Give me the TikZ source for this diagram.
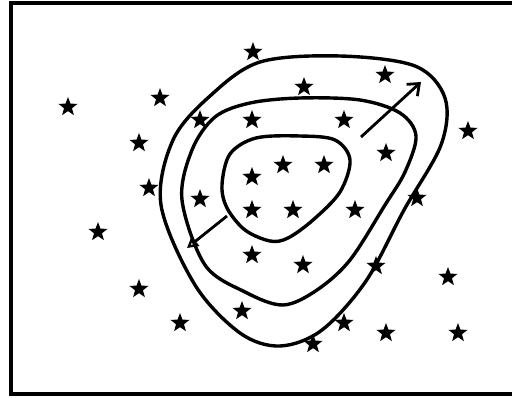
\documentclass[tikz,border=0pt]{standalone}
\usetikzlibrary{shapes.geometric,arrows.meta}
\begin{document}
\begin{tikzpicture}[x=1pt,y=-1pt,
  st/.style={star,star points=5,star point ratio=2.4,fill=black,draw=none,minimum size=20pt,inner sep=0pt},
  contour/.style={line width=3.4pt},
  frame/.style={line width=3.2pt}]
\useasboundingbox (0,0) rectangle (512,398);
\fill[white] (0,0) rectangle (512,398);
\draw[frame] (512,3) -- (11,3) -- (11,394) -- (512,394);
% stars
\foreach \n/\x/\y in {1/68/107,2/160/98,3/253/52,4/385/75,5/304/87,6/200/120,7/252/120,8/344/120,
  9/139/143,10/468/131,11/386/153,12/149/188,13/283/165,14/324/165,15/252/177,16/200/199,
  17/252/210,18/293/210,19/355/210,20/417/198,21/98/232,22/252/255,23/303/265,24/376/266,
  25/139/289,26/448/277,27/242/311,28/180/323,29/344/323,30/386/333,31/458/333,32/313/344}
  \node[st] (s\n) at (\x,\y) {};
% contours
\draw[contour] plot[smooth cycle,tension=0.55] coordinates {(161,205) (173,140) (210,96) (260,62) (340,56) (415,66) (445,98) (441,145) (404,210) (366,281) (322,330) (280,346) (240,333) (195,285)};
\draw[contour] plot[smooth cycle,tension=0.55] coordinates {(182,200) (192,150) (215,117) (250,103) (300,98) (360,100) (400,113) (416,136) (405,172) (385,205) (350,260) (317,290) (283,305) (245,292) (205,265)};
\draw[contour] plot[smooth cycle,tension=0.55] coordinates {(222,185) (230,154) (256,138) (300,136) (335,140) (350,160) (340,192) (313,220) (288,238) (270,241) (245,230) (227,208)};
% arrows
\coordinate (a1s) at (361,137);
\coordinate (a1e) at (421,82);
\coordinate (a2s) at (227,216);
\coordinate (a2e) at (187,248);
\draw[line width=2.8pt,-{Straight Barb[length=10pt,width=16pt,line width=2.8pt]}] (a1s) -- (a1e);
\draw[line width=2.8pt,-{Triangle[open,length=11pt,width=12pt,line width=2.4pt]}] (a2s) -- (a2e);
\end{tikzpicture}
\end{document}
